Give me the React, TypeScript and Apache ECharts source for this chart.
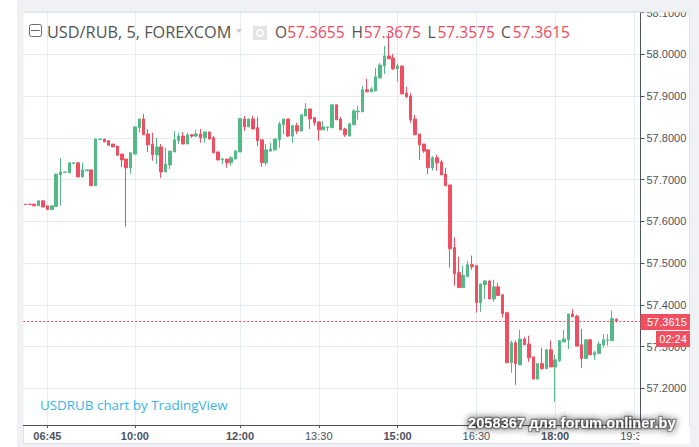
import React, { useEffect, useRef } from "react";
import * as echarts from "echarts";

const opens = [57.641,57.641,57.641,57.637,57.649,57.637,57.628,57.635,57.711,57.717,57.716,57.738,57.740,57.706,57.721,57.723,57.685,57.796,57.797,57.793,57.785,57.780,57.761,57.749,57.728,57.761,57.824,57.845,57.809,57.785,57.759,57.778,57.718,57.735,57.766,57.793,57.804,57.785,57.807,57.804,57.809,57.800,57.814,57.800,57.766,57.747,57.749,57.740,57.749,57.766,57.845,57.826,57.845,57.824,57.795,57.740,57.768,57.771,57.795,57.831,57.845,57.804,57.829,57.816,57.852,57.869,57.848,57.838,57.819,57.824,57.824,57.879,57.845,57.821,57.804,57.831,57.862,57.862,57.915,57.910,57.912,57.943,57.972,57.996,57.991,57.965,57.972,57.907,57.900,57.845,57.809,57.785,57.771,57.728,57.752,57.742,57.713,57.687,57.537,57.477,57.441,57.467,57.496,57.494,57.405,57.448,57.457,57.414,57.443,57.424,57.381,57.261,57.309,57.256,57.318,57.306,57.275,57.222,57.259,57.247,57.292,57.251,57.266,57.311,57.316,57.378,57.373,57.304,57.271,57.316,57.280,57.283,57.304,57.315,57.314,57.3655];
const closes = [57.640,57.640,57.637,57.649,57.634,57.628,57.637,57.713,57.718,57.718,57.740,57.740,57.706,57.723,57.723,57.685,57.797,57.797,57.790,57.782,57.778,57.758,57.747,57.728,57.764,57.826,57.845,57.807,57.783,57.759,57.778,57.718,57.737,57.768,57.795,57.804,57.785,57.807,57.804,57.809,57.800,57.814,57.797,57.764,57.747,57.749,57.740,57.752,57.768,57.846,57.826,57.845,57.821,57.793,57.740,57.771,57.773,57.797,57.833,57.845,57.804,57.829,57.816,57.855,57.869,57.845,57.836,57.819,57.826,57.826,57.879,57.843,57.819,57.807,57.833,57.864,57.864,57.915,57.910,57.917,57.946,57.974,57.996,57.989,57.965,57.972,57.905,57.898,57.843,57.807,57.783,57.768,57.728,57.752,57.740,57.711,57.685,57.534,57.474,57.441,57.470,57.496,57.491,57.405,57.450,57.457,57.414,57.443,57.422,57.379,57.261,57.309,57.259,57.318,57.304,57.273,57.222,57.259,57.247,57.292,57.251,57.268,57.314,57.318,57.378,57.371,57.301,57.271,57.316,57.280,57.285,57.306,57.316,57.316,57.367,57.3615];
const lows = [57.640,57.640,57.637,57.637,57.634,57.628,57.628,57.635,57.637,57.717,57.716,57.738,57.706,57.706,57.721,57.685,57.685,57.796,57.790,57.782,57.778,57.756,57.730,57.587,57.713,57.760,57.812,57.807,57.766,57.745,57.737,57.704,57.718,57.725,57.766,57.785,57.785,57.785,57.800,57.802,57.788,57.788,57.795,57.764,57.745,57.737,57.728,57.733,57.749,57.766,57.816,57.826,57.821,57.780,57.730,57.733,57.768,57.768,57.776,57.809,57.802,57.788,57.809,57.816,57.852,57.821,57.829,57.793,57.819,57.816,57.824,57.843,57.819,57.802,57.804,57.831,57.843,57.862,57.910,57.910,57.912,57.943,57.953,57.989,57.962,57.934,57.905,57.895,57.836,57.807,57.747,57.764,57.713,57.721,57.721,57.711,57.685,57.489,57.446,57.441,57.441,57.467,57.484,57.381,57.383,57.414,57.414,57.407,57.422,57.369,57.261,57.237,57.208,57.256,57.304,57.263,57.222,57.222,57.244,57.247,57.251,57.167,57.263,57.311,57.294,57.371,57.301,57.249,57.271,57.280,57.268,57.283,57.297,57.302,57.314,57.3575];
const highs = [57.641,57.641,57.641,57.649,57.649,57.637,57.637,57.713,57.751,57.718,57.740,57.740,57.740,57.740,57.723,57.723,57.797,57.797,57.797,57.793,57.785,57.780,57.761,57.749,57.764,57.826,57.845,57.857,57.821,57.812,57.800,57.785,57.776,57.768,57.816,57.812,57.814,57.812,57.809,57.819,57.821,57.814,57.814,57.804,57.766,57.752,57.749,57.756,57.771,57.846,57.852,57.845,57.852,57.850,57.795,57.785,57.788,57.797,57.838,57.845,57.845,57.831,57.836,57.857,57.883,57.869,57.850,57.838,57.840,57.826,57.879,57.879,57.850,57.824,57.836,57.869,57.876,57.924,57.941,57.922,57.967,57.979,58.020,58.050,58.001,57.977,57.972,57.922,57.907,57.855,57.809,57.785,57.771,57.756,57.759,57.747,57.728,57.687,57.561,57.515,57.494,57.505,57.518,57.494,57.450,57.460,57.460,57.460,57.453,57.424,57.383,57.314,57.314,57.340,57.323,57.326,57.275,57.259,57.297,57.294,57.314,57.280,57.314,57.340,57.378,57.390,57.376,57.342,57.316,57.318,57.290,57.311,57.330,57.330,57.386,57.3675];

const SLOT_COUNT = 141;
const tickSlots = [5, 25, 49, 67, 85, 103, 121, 139];
const tickLabels = ["06:45", "10:00", "12:00", "13:30", "15:00", "16:30", "18:00", "19:30"];
const boldLabels = ["06:45", "10:00", "12:00", "15:00", "18:00"];
const priceTicks = [57.2, 57.3, 57.4, 57.5, 57.6, 57.7, 57.8, 57.9, 58.0, 58.1];
const lastPrice = 57.3615;
const countdown = "02:24";
const legendValues = [["O", "57.3655"], ["H", "57.3675"], ["L", "57.3575"], ["C", "57.3615"]];

const UP = "#53b987";
const DOWN = "#ef4f60";
const GRID = "#e1ecf3";
const AXIS = "#4c525e";
const PANEL = "#eff1f5";

const categories = Array.from({ length: SLOT_COUNT }, (_, i) => {
  const t = tickSlots.indexOf(i);
  return t >= 0 ? tickLabels[t] : String(i);
});
const candles = opens.map((o, i) => [o, closes[i], lows[i], highs[i]]);
const isTick = (i: number) => tickSlots.indexOf(i) >= 0;

export default function App() {
  const ref = useRef<HTMLDivElement>(null);
  useEffect(() => {
    const chart = echarts.init(ref.current!, null, { renderer: "svg" });
    const legendX = [275, 351.5, 427.5, 501];
    const valueX = [287.3, 363.7, 437.5, 512.7];
    chart.setOption({
      animation: false,
      backgroundColor: "transparent",
      textStyle: { fontFamily: "Liberation Sans" },
      grid: { left: 23.3, width: 617.2, top: 12.5, bottom: 22, containLabel: false, backgroundColor: "#fff", show: true, borderWidth: 0 },
      xAxis: {
        type: "category",
        data: categories,
        boundaryGap: true,
        axisLine: { show: true, lineStyle: { color: AXIS, width: 1 } },
        axisTick: { show: true, alignWithLabel: true, length: 3, interval: (i: number) => isTick(i), lineStyle: { color: AXIS } },
        splitLine: { show: true, alignWithLabel: true, interval: (i: number) => isTick(i), lineStyle: { color: GRID, width: 1 } },
        axisLabel: {
          show: true,
          interval: (i: number) => isTick(i),
          hideOverlap: false,
          margin: 5,
          formatter: (v: string) => (boldLabels.indexOf(v) >= 0 ? `{b|${v}}` : `{n|${v}}`),
          rich: {
            b: { fontFamily: "Liberation Sans", fontSize: 11, fontWeight: "bold", color: "#4c525e" },
            n: { fontFamily: "Liberation Sans", fontSize: 11, color: "#4c525e" },
          },
        },
      },
      yAxis: {
        type: "value",
        position: "right",
        min: 57.112,
        max: 58.1,
        axisLine: { show: true, lineStyle: { color: AXIS, width: 1 } },
        axisTick: { show: true, length: 4, customValues: priceTicks, lineStyle: { color: AXIS } },
        splitLine: { show: true, lineStyle: { color: GRID, width: 1 } },
        axisLabel: {
          show: true,
          margin: 6,
          customValues: priceTicks,
          fontFamily: "Liberation Sans",
          fontSize: 11,
          color: "#4c525e",
          formatter: (v: number) => v.toFixed(4),
        },
      },
      series: [
        {
          type: "candlestick",
          data: candles,
          barWidth: 3,
          clip: false,
          itemStyle: { color: UP, color0: DOWN, borderColor: UP, borderColor0: DOWN, borderWidth: 1 },
          markLine: {
            silent: true,
            symbol: "none",
            animation: false,
            label: { show: false },
            lineStyle: { color: DOWN, type: [2, 2], width: 1 },
            data: [{ yAxis: lastPrice }],
          },
        },
      ],
      graphic: [
        { type: "rect", z: 50, silent: true, shape: { x: 17, y: 0, width: 682, height: 12 }, style: { fill: PANEL } },
        { type: "rect", z: 50, silent: true, shape: { x: 24, y: 11.5, width: 666, height: 1 }, style: { fill: "#dce3e9" } },
        { type: "rect", z: 50, silent: true, shape: { x: 639.3, y: 426, width: 50.7, height: 18 }, style: { fill: "#fff" } },
        { type: "rect", z: 51, silent: true, shape: { x: 29.5, y: 24.5, width: 12, height: 12, r: 2 }, style: { fill: "#fff", stroke: "#6b6b6b", lineWidth: 1 } },
        { type: "line", z: 52, silent: true, shape: { x1: 31, y1: 30.5, x2: 40, y2: 30.5 }, style: { stroke: "#6b6b6b", lineWidth: 1 } },
        { type: "text", z: 52, silent: true, x: 47, y: 32, style: { text: "USD/RUB, 5, FOREXCOM", font: "16.3px 'Open Sans'", fill: "#535353", verticalAlign: "middle" } },
        { type: "polygon", z: 52, silent: true, shape: { points: [[236, 29.3], [242, 29.3], [239, 33]] }, style: { fill: "#c4c8cc" } },
        { type: "rect", z: 52, silent: true, shape: { x: 253, y: 26, width: 14, height: 14 }, style: { fill: "#e4e4e4" } },
        { type: "circle", z: 53, silent: true, shape: { cx: 260, cy: 33, r: 3.2 }, style: { fill: "#e4e4e4", stroke: "#fff", lineWidth: 1.5 } },
        ...legendValues.flatMap(([k, v], i) => [
          { type: "text", z: 52, silent: true, x: legendX[i], y: 32, style: { text: k, font: "15.5px 'Open Sans'", fill: "#535353", verticalAlign: "middle" } },
          { type: "text", z: 52, silent: true, x: valueX[i], y: 32, style: { text: v, font: "15.5px 'Open Sans'", fill: "#f2495e", verticalAlign: "middle" } },
        ]),
        { type: "text", z: 52, silent: true, x: 40, y: 405, style: { text: "USDRUB chart by TradingView", font: "13.4px 'Open Sans'", fill: "#3bb3e4", verticalAlign: "middle" } },
        { type: "rect", z: 54, silent: true, shape: { x: 640.5, y: 314, width: 49.5, height: 16 }, style: { fill: DOWN } },
        { type: "text", z: 55, silent: true, x: 647, y: 322, style: { text: lastPrice.toFixed(4), font: "11px 'Liberation Sans'", fill: "#fff", verticalAlign: "middle" } },
        { type: "rect", z: 54, silent: true, shape: { x: 656, y: 331, width: 34, height: 16 }, style: { fill: DOWN } },
        { type: "text", z: 55, silent: true, x: 659.3, y: 339, style: { text: countdown, font: "11px 'Liberation Sans'", fill: "#fff", verticalAlign: "middle" } },
        { type: "text", z: 60, silent: true, x: 468, y: 423, style: { text: "2058367 для forum.onliner.by", font: "bold 14.7px 'Liberation Sans'", fill: "#fff", verticalAlign: "middle", stroke: "rgba(40,40,40,0.4)", lineWidth: 2.5, textShadowColor: "#222", textShadowBlur: 7 } },
      ],
    });
    return () => chart.dispose();
  }, []);
  return (
    <div style={{ position: "absolute", left: 0, top: 0, width: 699, height: 447, background: "#fff", overflow: "hidden" }}>
      <div style={{ position: "absolute", left: 17, top: 0, width: 682, height: 447, background: PANEL }} />
      <div style={{ position: "absolute", left: 23, top: 11, width: 667, height: 433, background: "#fff", boxSizing: "border-box", border: "1px solid #dce3e9" }} />
      <div ref={ref} style={{ position: "absolute", left: 0, top: 0, width: 699, height: 447 }} />
    </div>
  );
}
